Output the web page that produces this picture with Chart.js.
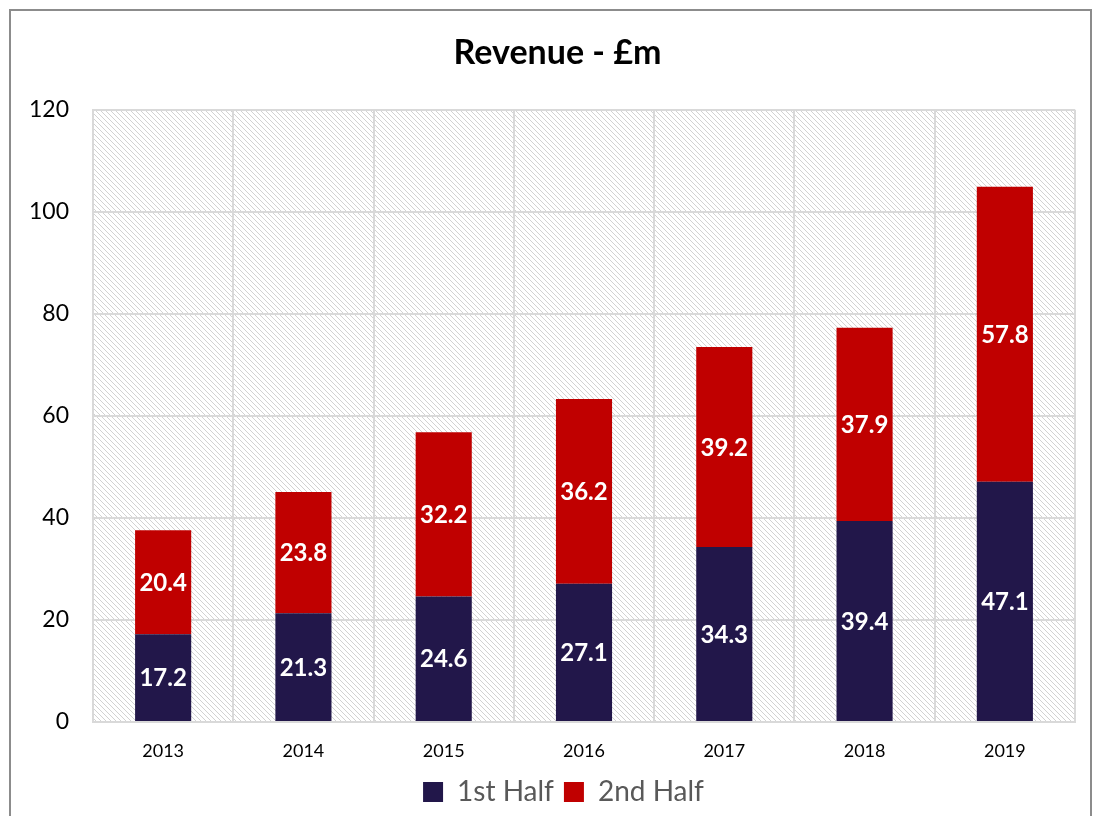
<!DOCTYPE html>
<html>
<head>
<meta charset="utf-8">
<script src="https://cdn.jsdelivr.net/npm/chart.js@4/dist/chart.umd.min.js"></script>
<style>
  body { margin: 0; background: #fff; }
  #frame { position: absolute; left: 9px; top: 9px; width: 1079px; height: 830px; border: 2px solid #8c8c8c; }
  #wrap { position: absolute; left: 0; top: 0; width: 1097px; height: 816px; }
</style>
</head>
<body>
<div id="frame"></div>
<div id="wrap"><canvas id="chart" width="1097" height="816"></canvas></div>
<script>
const years = ["2013", "2014", "2015", "2016", "2017", "2018", "2019"];
const firstHalf = [17.2, 21.3, 24.6, 27.1, 34.3, 39.4, 47.1];
const secondHalf = [20.4, 23.8, 32.2, 36.2, 39.2, 37.9, 57.8];

const FONT = "Lato, 'Open Sans', sans-serif";

// diagonal hatch behind the plot area
function hatch() {
  const c = document.createElement("canvas");
  c.width = 5; c.height = 5;
  const g = c.getContext("2d");
  g.fillStyle = "#d2d2d2";
  for (let i = 0; i < 5; i++) g.fillRect(i, i, 1, 1);
  return c;
}

const hatchPlugin = {
  id: "hatch",
  afterLayout(chart) {
    // centre title and legend a little right, as in the original
    chart.titleBlock.left += 14; chart.titleBlock.right += 14;
    chart.legend.left += 20; chart.legend.right += 20;
  },
  beforeDraw(chart) {
    const { ctx, chartArea: a } = chart;
    ctx.save();
    ctx.fillStyle = ctx.createPattern(hatch(), "repeat");
    ctx.fillRect(a.left, a.top, a.right - a.left, a.bottom - a.top);
    ctx.restore();
  }
};

const labelPlugin = {
  id: "barLabels",
  afterDatasetsDraw(chart) {
    const ctx = chart.ctx;
    ctx.save();
    ctx.fillStyle = "#fff";
    ctx.font = "bold 24px " + FONT;
    ctx.textAlign = "center";
    ctx.textBaseline = "middle";
    chart.data.datasets.forEach((ds, i) => {
      chart.getDatasetMeta(i).data.forEach((bar, j) => {
        const y = (bar.y + bar.base) / 2;
        ctx.fillText(ds.data[j].toFixed(1), bar.x, y + 1);
      });
    });
    ctx.restore();
  }
};

new Chart(document.getElementById("chart"), {
  type: "bar",
  data: {
    labels: years,
    datasets: [
      { label: "1st Half", data: firstHalf, backgroundColor: "#22174a" },
      { label: "2nd Half", data: secondHalf, backgroundColor: "#c00000" }
    ]
  },
  options: {
    responsive: false,
    animation: false,
    devicePixelRatio: 1,
    categoryPercentage: 1,
    barPercentage: 0.4,
    layout: { padding: { left: 12, right: 22, top: 0, bottom: 0 } },
    scales: {
      x: {
        stacked: true,
        grid: { color: "#d9d9d9", lineWidth: 2, drawTicks: false },
        border: { color: "#d9d9d9", width: 2 },
        ticks: { color: "#000", font: { family: FONT, size: 18 }, padding: 18 },
        afterFit(s) { s.height = 46; }
      },
      y: {
        stacked: true,
        min: 0,
        max: 120,
        grid: { color: "#d9d9d9", lineWidth: 2, drawTicks: false },
        border: { color: "#d9d9d9", width: 2 },
        ticks: { stepSize: 20, color: "#000", font: { family: FONT, size: 23 }, padding: 24 },
        afterFit(s) { s.width = 81; }
      }
    },
    plugins: {
      title: {
        display: true,
        text: "Revenue - £m",
        color: "#000",
        font: { family: FONT, size: 34, weight: "bold" },
        padding: { top: 33, bottom: 36 }
      },
      legend: {
        position: "bottom",
        labels: {
          color: "#595959",
          font: { family: FONT, size: 28, lineHeight: 1 },
          boxWidth: 20,
          boxHeight: 20,
          padding: 10
        }
      },
      tooltip: { enabled: false }
    }
  },
  plugins: [hatchPlugin, labelPlugin]
});
</script>
</body>
</html>
